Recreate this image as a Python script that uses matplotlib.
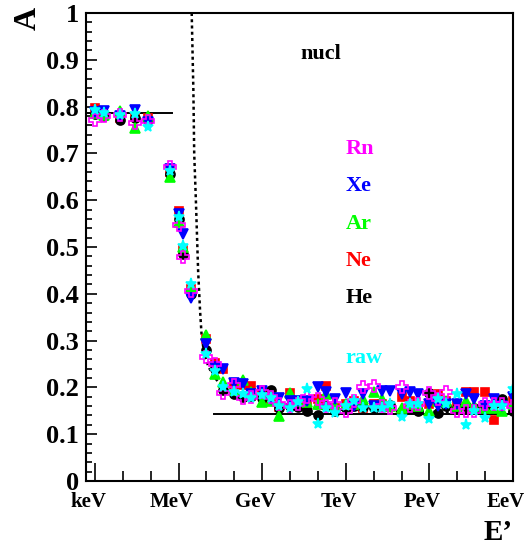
import numpy as np
import matplotlib.pyplot as plt
from matplotlib.ticker import NullFormatter
from matplotlib.transforms import ScaledTranslation

# energies in eV
energy = [1.0e3, 2.1e3, 8.0e3, 2.7e4, 8.0e4, 5.0e5, 1.0e6, 1.45e6, 2.9e6,
          1e7, 2e7, 4e7, 1e8, 2e8, 4e8, 1e9, 2e9, 4e9, 1e10, 2e10, 4e10,
          1e11, 2e11, 4e11, 1e12, 2e12, 4e12, 1e13, 2e13, 4e13, 1e14, 2e14, 4e14,
          1e15, 2e15, 4e15, 1e16, 2e16, 4e16, 1e17, 2e17, 4e17, 1e18]

A_Rn = [0.772, 0.780, 0.782, 0.764, 0.770, 0.672, 0.546, 0.478, 0.405,
        0.266, 0.250, 0.187, 0.205, 0.178, 0.180, 0.190, 0.180, 0.165, 0.160, 0.165, 0.180,
        0.175, 0.160, 0.165, 0.150, 0.170, 0.200, 0.203, 0.160, 0.155, 0.200, 0.160, 0.165,
        0.189, 0.175, 0.190, 0.150, 0.150, 0.150, 0.165, 0.165, 0.165, 0.160]
A_Xe = [0.789, 0.791, 0.780, 0.792, 0.768, 0.667, 0.570, 0.528, 0.392,
        0.293, 0.243, 0.239, 0.210, 0.208, 0.185, 0.193, 0.175, 0.177, 0.170, 0.170, 0.172,
        0.201, 0.190, 0.175, 0.189, 0.160, 0.185, 0.160, 0.193, 0.193, 0.185, 0.190, 0.185,
        0.165, 0.160, 0.165, 0.165, 0.185, 0.175, 0.160, 0.175, 0.160, 0.180]
A_Ar = [0.786, 0.781, 0.790, 0.754, 0.779, 0.650, 0.553, 0.500, 0.415,
        0.311, 0.228, 0.212, 0.195, 0.215, 0.190, 0.168, 0.172, 0.139, 0.189, 0.170, 0.168,
        0.165, 0.185, 0.160, 0.165, 0.165, 0.175, 0.190, 0.175, 0.160, 0.155, 0.165, 0.160,
        0.150, 0.170, 0.170, 0.160, 0.170, 0.160, 0.155, 0.155, 0.150, 0.165]
A_Ne = [0.796, 0.782, 0.776, 0.778, 0.776, 0.660, 0.576, 0.493, 0.410,
        0.303, 0.252, 0.240, 0.205, 0.205, 0.203, 0.190, 0.170, 0.158, 0.187, 0.160, 0.165,
        0.176, 0.203, 0.155, 0.165, 0.170, 0.155, 0.165, 0.165, 0.160, 0.180, 0.170, 0.155,
        0.165, 0.185, 0.170, 0.165, 0.190, 0.190, 0.190, 0.130, 0.170, 0.170]
A_He = [0.785, 0.780, 0.772, 0.775, 0.772, 0.655, 0.560, 0.485, 0.400,
        0.280, 0.240, 0.194, 0.185, 0.180, 0.182, 0.178, 0.194, 0.155, 0.160, 0.158, 0.150,
        0.141, 0.160, 0.150, 0.155, 0.160, 0.158, 0.155, 0.160, 0.162, 0.150, 0.155, 0.150,
        0.189, 0.145, 0.160, 0.155, 0.160, 0.155, 0.160, 0.165, 0.175, 0.150]
A_raw = [0.792, 0.786, 0.783, 0.785, 0.756, 0.663, 0.565, 0.502, 0.420,
         0.272, 0.236, 0.200, 0.190, 0.185, 0.178, 0.183, 0.178, 0.160, 0.155, 0.168, 0.196,
         0.121, 0.155, 0.145, 0.160, 0.170, 0.155, 0.155, 0.155, 0.165, 0.136, 0.165, 0.165,
         0.132, 0.175, 0.165, 0.185, 0.120, 0.150, 0.135, 0.160, 0.160, 0.196]

# dotted curve
curve_E = [10**6.47, 10**6.53, 10**6.56, 10**6.62, 10**6.70, 10**6.77, 10**6.83,
           10**6.93, 10**7.06, 10**7.24, 10**7.49, 10**7.84, 10**8.38, 10**8.98,
           10**9.70, 10**10.36, 1e12, 10**14.3, 1e18]
curve_A = [1.00, 0.835, 0.70, 0.60, 0.45, 0.364, 0.307, 0.27, 0.246, 0.225, 0.207,
           0.19, 0.178, 0.171, 0.164, 0.157, 0.152, 0.148, 0.147]

low_line_E = [10**2.677, 10**5.75]
low_line_A = [0.786, 0.786]
high_line_E = [10**7.27, 1e18]
high_line_A = [0.143, 0.143]

tick_E = [1e3, 1e6, 1e9, 1e12, 1e15, 1e18]
tick_names = ['keV', 'MeV', 'GeV', 'TeV', 'PeV', 'EeV']

plt.rcParams['font.family'] = ['Liberation Serif', 'DejaVu Serif']
plt.rcParams['font.weight'] = 'bold'

W, H = 525, 548
fig = plt.figure(figsize=(W/100, H/100), dpi=100)
ax = fig.add_axes([86/W, (H-481)/H, (513-86)/W, (481-13)/H])

ax.plot(low_line_E, low_line_A, c='k', lw=1.4)
ax.plot(high_line_E, high_line_A, c='k', lw=1.4)
ax.plot(curve_E, curve_A, c='k', lw=1.8, linestyle=(0, (1.2, 1.3)))

series = [(A_Ne, 's', 'red', 6.0, 'red'),
          (A_He, 'o', 'black', 6.5, 'black'),
          (A_Ar, '^', '#00ff00', 7, '#00ff00'),
          (A_Xe, 'v', 'blue', 7, 'blue'),
          (A_Rn, 'P', '#ff00ff', 8, 'none'),
          (A_raw, '*', '#00ffff', 8, '#00ffff')]
for vals, mk, col, ms, fc in series:
    ax.plot(energy, vals, linestyle='none', marker=mk, ms=ms, mec=col, mfc=fc, mew=1.2)

ax.set_xscale('log')
ax.set_xlim(10**2.677, 1e18)
ax.set_ylim(0, 1)
ax.set_xticks(tick_E)
ax.set_xticklabels(tick_names)
ax.set_xticks([10.0**k for k in range(3, 18) if k % 3 != 0], minor=True)
ax.xaxis.set_minor_formatter(NullFormatter())
ax.set_yticks(np.arange(0, 1.01, 0.1))
ax.set_yticklabels(['0', '0.1', '0.2', '0.3', '0.4', '0.5', '0.6', '0.7', '0.8', '0.9', '1'])
ax.set_yticks(np.arange(0, 1.001, 0.02), minor=True)
ax.tick_params(axis='x', which='major', direction='in', length=13, width=1.2, labelsize=15, pad=8)
ax.tick_params(axis='x', which='minor', direction='in', length=7, width=1.2)
ax.tick_params(axis='y', which='major', direction='in', length=8, width=1.2, labelsize=19, pad=5)
ax.tick_params(axis='y', which='minor', direction='in', length=4.3, width=1.2)
shift = ScaledTranslation(-7/100, 0, fig.dpi_scale_trans)
for lab in ax.get_xticklabels():
    lab.set_fontweight('bold')
    lab.set_transform(lab.get_transform() + shift)
for lab in ax.get_yticklabels():
    lab.set_fontweight('bold')
for sp in ax.spines.values():
    sp.set_linewidth(1.5)

def ftext(x, y, s, **kw):
    fig.text(x/W, 1 - y/H, s, fontweight='bold', **kw)

ftext(300.7, 59.3, 'nucl', fontsize=16, color='black')
labels = [('Rn', '#ff00ff', 154), ('Xe', 'blue', 191), ('Ar', '#00ff00', 229),
          ('Ne', 'red', 266), ('He', 'black', 303.3), ('raw', '#00ffff', 363.3)]
for s, c, yb in labels:
    ftext(345.7, yb, s, fontsize=16, color=c, va='baseline')
ftext(28, 18, 'A', fontsize=23, rotation=90, ha='center', va='center')
ftext(484, 540, 'E’', fontsize=21, va='baseline')

fig.savefig('out.png', dpi=100)
